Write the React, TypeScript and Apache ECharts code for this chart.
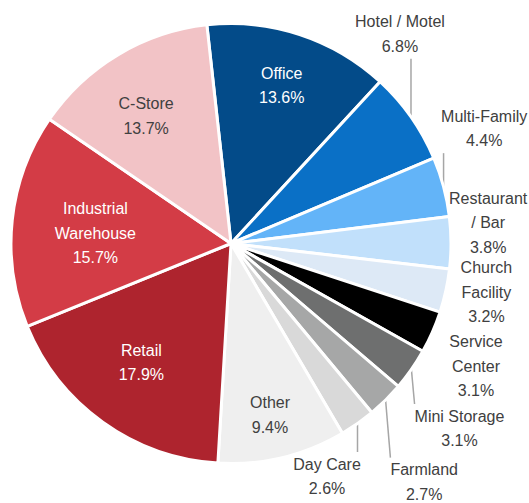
import React, { useEffect, useRef } from 'react';
import * as echarts from 'echarts';

// ---- data ----
const categories = [
  'Office', 'Hotel / Motel', 'Multi-Family', 'Restaurant / Bar', 'Church Facility',
  'Service Center', 'Mini Storage', 'Farmland', 'Day Care', 'Other', 'Retail',
  'Industrial Warehouse', 'C-Store',
];
const shares = [13.6, 6.8, 4.4, 3.8, 3.2, 3.1, 3.1, 2.7, 2.6, 9.4, 17.9, 15.7, 13.7];

// ---- styles ----
const labelNames = [
  'Office', 'Hotel / Motel', 'Multi-Family', 'Restaurant\n/ Bar', 'Church\nFacility',
  'Service\nCenter', 'Mini Storage', 'Farmland', 'Day Care', 'Other', 'Retail',
  'Industrial\nWarehouse', 'C-Store',
];
const sliceColors = [
  '#034b89', '#0a70c6', '#63b4f8', '#c1e0fb', '#dde9f6', '#000000', '#6e6f6f',
  '#a6a7a7', '#d9d9d9', '#efefef', '#ae242e', '#d33c46', '#f2c3c6',
];
const labelInside = [true, false, false, false, false, false, false, false, false, true, true, true, true];
const labelColors = [
  '#ffffff', '#404040', '#404040', '#404040', '#404040', '#404040', '#404040',
  '#404040', '#404040', '#404040', '#ffffff', '#ffffff', '#404040',
];
const showLeader = [false, true, true, false, false, false, true, true, true, false, false, false, false];
// label anchor: [angle clockwise from 12 o'clock in degrees, distance from pie centre in px]
const labelAnchors: [number, number][] = [
  [17.8, 166], [38.9, 269], [65.6, 278], [85.4, 258], [100.8, 260], [116.6, 274],
  [129, 294], [141, 307], [157.6, 252], [167.2, 176], [217, 149], [274.4, 136], [326.3, 153],
];

const CX = 231;
const CY = 243.5;
const R = 220;
const START = -6.3; // degrees clockwise from 12 o'clock

const FONT = '"Liberation Sans", Arial, sans-serif';

export default function App() {
  const ref = useRef<HTMLDivElement>(null);

  useEffect(() => {
    if (!ref.current) return;
    const chart = echarts.init(ref.current, undefined, { renderer: 'svg' });

    const total = shares.reduce((a, b) => a + b, 0);
    const midAngles: number[] = [];
    let acc = 0;
    shares.forEach((v) => {
      midAngles.push(START + ((acc + v / 2) / total) * 360);
      acc += v;
    });

    const data = categories.map((name, i) => ({
      name,
      value: shares[i],
      itemStyle: { color: sliceColors[i] },
      label: {
        position: labelInside[i] ? 'inside' : 'outside',
        color: labelColors[i],
      },
      labelLine: { show: showLeader[i] },
    }));

    chart.setOption({
      animation: false,
      series: [
        {
          type: 'pie',
          center: [CX, CY],
          radius: R,
          startAngle: 90 - START,
          clockwise: true,
          avoidLabelOverlap: false,
          emphasis: { disabled: true },
          itemStyle: { borderColor: '#ffffff', borderWidth: 3 },
          label: {
            show: true,
            fontFamily: FONT,
            fontSize: 16,
            lineHeight: 24.5,
            align: 'center',
            formatter: (p: any) => `${labelNames[p.dataIndex]}\n${p.value.toFixed(1)}%`,
          },
          labelLine: {
            lineStyle: { color: '#a6a6a6', width: 1.5 },
          },
          labelLayout: (p: any) => {
            const i = p.dataIndex;
            const [ang, dist] = labelAnchors[i];
            const a = (ang * Math.PI) / 180;
            const x = CX + dist * Math.sin(a);
            const y = CY - dist * Math.cos(a);
            const res: any = { x, y, align: 'center', verticalAlign: 'middle' };
            if (showLeader[i]) {
              const m = (midAngles[i] * Math.PI) / 180;
              const ax = CX + R * Math.sin(m);
              const ay = CY - R * Math.cos(m);
              const w = p.labelRect.width;
              const h = p.labelRect.height;
              const nx = Math.min(Math.max(ax, x - w / 2), x + w / 2);
              const ny = Math.min(Math.max(ay, y - h / 2), y + h / 2);
              res.labelLinePoints = [[ax, ay], [nx, ny]];
            }
            return res;
          },
          data,
        },
      ],
    });

    return () => chart.dispose();
  }, []);

  return (
    <div
      ref={ref}
      style={{ position: 'absolute', left: 0, top: 0, width: 529, height: 503 }}
    />
  );
}
